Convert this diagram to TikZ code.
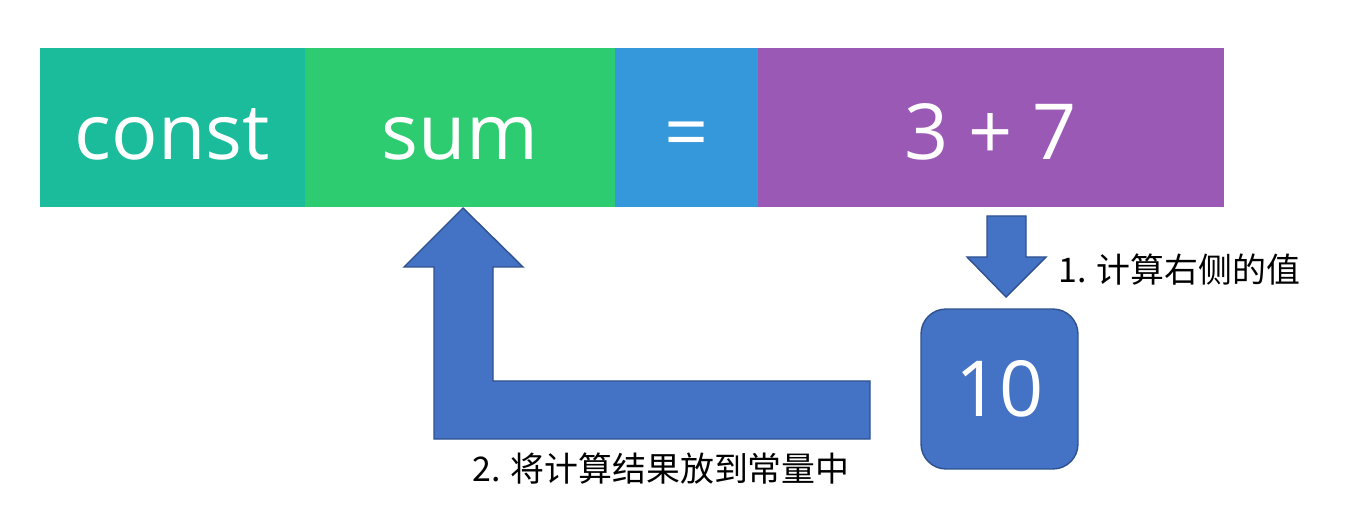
\documentclass[tikz,border=0pt]{standalone}
\usepackage{fontspec}
\setmainfont{Open Sans}
\newfontfamily\cjk{Noto Sans CJK SC}
\usetikzlibrary{positioning}
\definecolor{cconst}{HTML}{1ABC9C}
\definecolor{csum}{HTML}{2ECC71}
\definecolor{ceq}{HTML}{3498DB}
\definecolor{cexpr}{HTML}{9B59B6}
\definecolor{cblk}{HTML}{4472C4}
\definecolor{cedge}{HTML}{2F528F}
\begin{document}
\begin{tikzpicture}[x=0.02cm,y=-0.02cm,
  seg/.style={minimum height=3.18cm,inner sep=0,outer sep=0,text height=1.3cm,text depth=0cm,
    text=white,font=\fontsize{44}{44}\selectfont},
  blk/.style={fill=cblk,draw=cedge,line width=0.8pt},
  lbl/.style={font=\cjk\fontsize{19.3}{19.3}\selectfont,inner sep=0}]
  \useasboundingbox(0,0)rectangle(1360,530);
  \node[seg,fill=cconst,minimum width=5.3cm,anchor=north west](const)at(40,48){const};
  \node[seg,fill=csum,minimum width=6.2cm,right=0 of const](sum){sum};
  \node[seg,fill=ceq,minimum width=2.86cm,right=0 of sum](eq){=};
  \node[seg,fill=cexpr,minimum width=9.32cm,right=0 of eq](expr){3 + 7};
  % 1. evaluate the right side
  \draw[blk](987,216)--(1026,216)--(1026,257)--(1046,257)--(1006,297)--(967,257)--(987,257)--cycle;
  \node[lbl,anchor=west](step1)at(1058,270){1. 计算右侧的值};
  \node[blk,rounded corners=0.5cm,minimum width=3.14cm,minimum height=3.2cm,text=white,
    font=\fontsize{44}{44}\selectfont](ten)at(999.5,389){10};
  % 2. store into the constant
  \draw[blk](463,208)--(523,267)--(493,267)--(493,381)--(870,381)--(870,439)--(434,439)--(434,267)--(404,267)--cycle;
  \node[lbl](step2)at(661,469){2. 将计算结果放到常量中};
\end{tikzpicture}
\end{document}
